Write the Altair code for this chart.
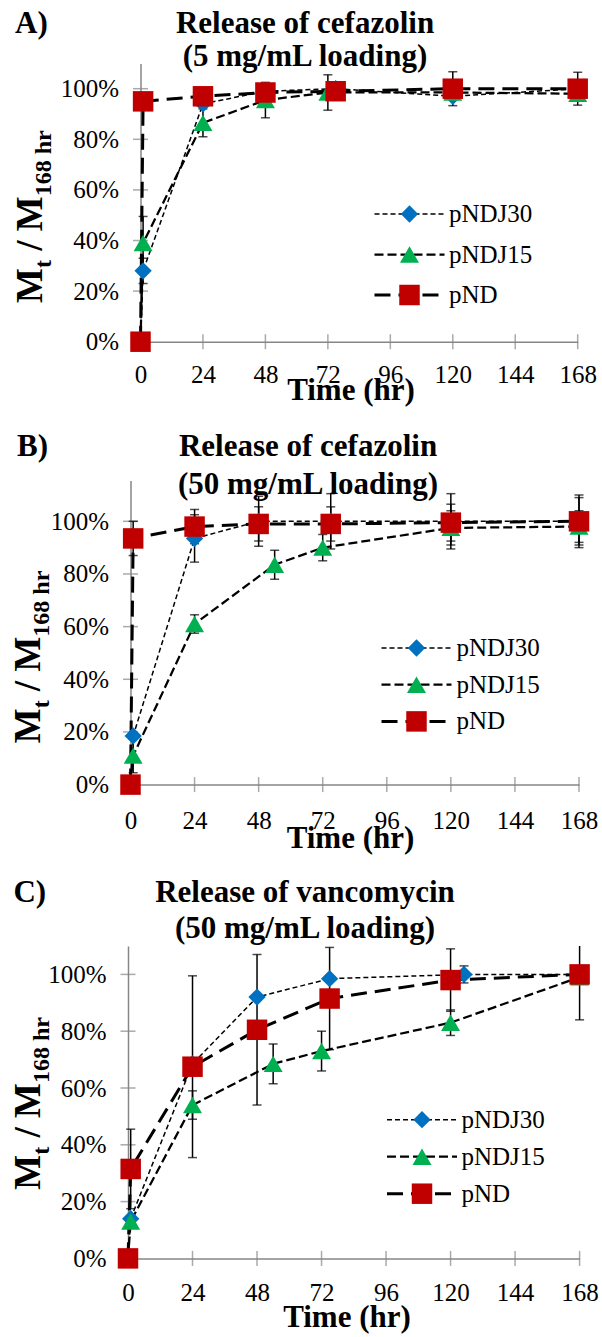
import altair as alt
import pandas as pd

FONT = "Liberation Serif, Times New Roman, Times, DejaVu Serif, serif"
AXIS_GRAY = "#868686"

# ---------------- categories / styles ----------------
SERIES = ["pNDJ30", "pNDJ15", "pND"]
MARKER_KEYS = [s + " m" for s in SERIES]
COLORS = ["#0070C0", "#00B050", "#C00000"]
SHAPES = ["diamond", "triangle-up", "square"]
MARKER_AREAS = [300, 420, 361]
DASHES = [[5, 3], [9, 4], [16, 8]]
LINE_WIDTHS = [1.5, 3.0, 3.5]

X_TICKS = [0, 24, 48, 72, 96, 120, 144, 168]
Y_TICKS = [0, 0.2, 0.4, 0.6, 0.8, 1.0]

# ---------------- Panel A: cefazolin 5 mg/mL ----------------
A_LABEL = "A)"
A_TITLE = ["Release of cefazolin", "(5 mg/mL loading)"]
A_T_PNDJ30 = [0, 1, 24, 48, 75, 120, 168]
A_Y_PNDJ30 = [0, 0.28, 0.94, 0.99, 1.00, 0.97, 1.00]
A_E_PNDJ30 = [0, 0.05, 0, 0, 0, 0, 0]
A_T_PNDJ15 = [0, 1, 24, 48, 72, 120, 168]
A_Y_PNDJ15 = [0, 0.39, 0.865, 0.955, 0.985, 0.985, 0.98]
A_E_PNDJ15 = [0, 0.105, 0.055, 0.07, 0.07, 0, 0]
A_T_PND = [0, 1, 24, 48, 75, 120, 168]
A_Y_PND = [0, 0.95, 0.97, 0.985, 0.99, 1.00, 1.00]
A_E_PND = [0, 0, 0, 0, 0, 0.067, 0.065]

# ---------------- Panel B: cefazolin 50 mg/mL ----------------
B_LABEL = "B)"
B_TITLE = ["Release of cefazolin", "(50 mg/mL loading)"]
B_T_PNDJ30 = [0, 1, 24, 48, 75, 120, 168]
B_Y_PNDJ30 = [0, 0.185, 0.935, 1.00, 1.00, 1.00, 1.00]
B_E_PNDJ30 = [0, 0, 0.09, 0.095, 0.105, 0.105, 0.10]
B_T_PNDJ15 = [0, 1, 24, 54, 72, 120, 168]
B_Y_PNDJ15 = [0, 0.11, 0.61, 0.835, 0.90, 0.975, 0.98]
B_E_PNDJ15 = [0, 0.065, 0.035, 0.055, 0.05, 0.065, 0.06]
B_T_PND = [0, 1, 24, 48, 75, 120, 168]
B_Y_PND = [0, 0.935, 0.98, 0.99, 0.99, 0.995, 1.00]
B_E_PND = [0, 0.065, 0.065, 0.065, 0.065, 0.07, 0.09]

# ---------------- Panel C: vancomycin 50 mg/mL ----------------
C_LABEL = "C)"
C_TITLE = ["Release of vancomycin", "(50 mg/mL loading)"]
C_T_PNDJ30 = [0, 1, 24, 48, 75, 125, 168]
C_Y_PNDJ30 = [0, 0.14, 0.685, 0.92, 0.985, 1.00, 1.00]
C_E_PNDJ30 = [0, 0, 0, 0, 0, 0.03, 0]
C_T_PNDJ15 = [0, 1, 24, 54, 72, 120, 168]
C_Y_PNDJ15 = [0, 0.13, 0.54, 0.685, 0.73, 0.83, 0.99]
C_E_PNDJ15 = [0, 0, 0.05, 0.07, 0.07, 0.045, 0]
C_T_PND = [0, 1, 24, 48, 75, 120, 168]
C_Y_PND = [0, 0.315, 0.675, 0.805, 0.915, 0.98, 1.00]
C_E_PND = [0, 0.14, 0.32, 0.265, 0.18, 0.11, 0.16]

X_TITLE = "Time (hr)"

# ---------------- layout (pixels, relative to each panel's view) ----------------
LAYOUTS = {
    "A": dict(w=449.7, h=340.7, xl=12.5, xr=449.7, y0=340.7, ytop=62.4, ymax=1.1,
              lab=(-113, 32), t1=(177, 32), t2=(177, 65), yt=(-86, 302),
              xlabpad=41, xtx=222.5, xty=57.3,
              legx=269, legy=200.5, rowpad=14.5, laboff=27),
    "B": dict(w=451.0, h=442.6, xl=2.5, xr=451.0, y0=442.6, ytop=138.5, ymax=1.155,
              lab=(-111, 114.3), t1=(180, 114.3), t2=(180, 152.3), yt=(-88, 401.3),
              xlabpad=43.4, xtx=222, xty=62.7,
              legx=276, legy=293.5, rowpad=10.7, laboff=27.5),
    "C": dict(w=451.6, h=473.4, xl=0.0, xr=451.6, y0=473.4, ytop=161.0, ymax=1.1,
              lab=(-114.6, 117.4), t1=(177, 117.4), t2=(177, 153.4), yt=(-88, 404.7),
              xlabpad=41.6, xtx=218.5, xty=68.3,
              legx=281.5, legy=322.2, rowpad=11, laboff=27),
}

TITLE_SIZE = 31
TICK_SIZE = 25
LEGEND_SIZE = 25
YT_BIG = 37
YT_SUB = 24
YT_SHIFT = 9

TNR_BOLD = {"M": 0.944, "t": 0.333, "/": 0.278, " ": 0.25, "1": 0.5, "6": 0.5,
            "8": 0.5, "h": 0.556, "r": 0.444}

DUMMY = pd.DataFrame({"k": [0]})


def text_width(s, size):
    return sum(TNR_BOLD[c] for c in s) * size


def txt(s, x, y, size, bold=True, angle=0, align="left"):
    kw = dict(text=s, fontSize=size, font=FONT, fontWeight="bold" if bold else "normal",
              align=align, baseline="alphabetic", color="black")
    if angle:
        kw["angle"] = angle
    return alt.Chart(DUMMY).mark_text(**kw).encode(x=alt.value(x), y=alt.value(y))


def y_title(xb, ystart):
    parts = [("M", YT_BIG, 0), ("t", YT_SUB, YT_SHIFT), (" ", YT_BIG, None),
             ("/ M", YT_BIG, 0), ("168 hr", YT_SUB, YT_SHIFT)]
    out = []
    pos = ystart
    for s, size, shift in parts:
        if shift is not None:
            out.append(txt(s, xb + shift, pos, size, angle=270))
        pos -= text_width(s, size)
    return out


def build_panel(label, title, data, L, anchor=False):
    rows = []
    for s, m, (ts, ys, es) in zip(SERIES, MARKER_KEYS, data):
        for t, y, e in zip(ts, ys, es):
            rows.append({"series": s, "marker": m, "t": t, "y": y, "err": e,
                         "lo": y - e, "hi": min(y + e, L["ymax"]),
                         "cap": y + e <= L["ymax"]})
    df = pd.DataFrame(rows)
    errs = df[df["err"] > 0]
    caps_top = errs[errs["cap"]]

    xscale = alt.Scale(domain=[0, 168], range=[L["xl"], L["xr"]], nice=False, zero=False)
    yscale = alt.Scale(domain=[0, L["ymax"]], range=[L["y0"], L["ytop"]], nice=False)
    xaxis = alt.Axis(values=X_TICKS, format="d", grid=False, ticks=False, tickSize=0,
                     domainColor=AXIS_GRAY, domainWidth=1.5,
                     labelFont=FONT, labelFontSize=TICK_SIZE, labelColor="black",
                     labelPadding=L["xlabpad"], labelBaseline="alphabetic",
                     labelFlush=False, labelOverlap=False,
                     title=X_TITLE, titleFont=FONT, titleFontSize=TITLE_SIZE,
                     titleFontWeight="bold", titleColor="black", titleX=L["xtx"],
                     titleY=L["xty"], titleBaseline="alphabetic", titleAlign="center")
    yaxis = alt.Axis(values=Y_TICKS, format=".0%", grid=False, ticks=False, tickSize=0,
                     domainColor=AXIS_GRAY, domainWidth=1.5,
                     labelFont=FONT, labelFontSize=TICK_SIZE, labelColor="black",
                     labelPadding=22, labelFlush=False, labelOverlap=False,
                     title=None, offset=-L["xl"])

    leg_line = alt.Legend(orient="none", legendX=L["legx"], legendY=L["legy"], title=None,
                          symbolType="M-3.5,0L3.5,0", symbolSize=400,
                          symbolStrokeColor="black", labelFont=FONT,
                          labelFontSize=LEGEND_SIZE, labelColor="black",
                          labelOffset=L["laboff"], rowPadding=L["rowpad"], padding=0)
    leg_mark = alt.Legend(orient="none", legendX=L["legx"], legendY=L["legy"], title=None,
                          symbolSize=361, symbolStrokeWidth=0, symbolOpacity=1,
                          labelFont=FONT, labelFontSize=LEGEND_SIZE, labelExpr="''",
                          labelOffset=L["laboff"], rowPadding=L["rowpad"], padding=0)

    xt = alt.Chart(pd.DataFrame({"t": X_TICKS})).mark_tick(
        orient="vertical", size=15, thickness=1.5, color=AXIS_GRAY
    ).encode(x=alt.X("t:Q", scale=xscale, axis=xaxis), y=alt.datum(0))
    yt = alt.Chart(pd.DataFrame({"y": Y_TICKS})).mark_tick(
        orient="horizontal", size=15, thickness=1.5, color=AXIS_GRAY
    ).encode(y=alt.Y("y:Q", scale=yscale, axis=yaxis), x=alt.datum(0))

    lines = alt.Chart(df).mark_line(color="black").encode(
        x=alt.X("t:Q", scale=xscale, axis=xaxis),
        y=alt.Y("y:Q", scale=yscale, axis=yaxis),
        strokeDash=alt.StrokeDash("series:N", scale=alt.Scale(domain=SERIES, range=DASHES),
                                  legend=leg_line),
        strokeWidth=alt.StrokeWidth("series:N",
                                    scale=alt.Scale(domain=SERIES, range=LINE_WIDTHS),
                                    legend=leg_line),
    )
    rules = alt.Chart(errs).mark_rule(color="black", strokeWidth=1.5).encode(
        x="t:Q", y="lo:Q", y2="hi:Q")
    caps_lo = alt.Chart(errs).mark_tick(orient="horizontal", size=9, thickness=1.5,
                                        color="black").encode(x="t:Q", y="lo:Q")
    caps_hi = alt.Chart(caps_top).mark_tick(orient="horizontal", size=9, thickness=1.5,
                                            color="black").encode(x="t:Q", y="hi:Q")
    pts = alt.Chart(df).mark_point(filled=True, opacity=1).encode(
        x="t:Q", y="y:Q",
        shape=alt.Shape("marker:N", scale=alt.Scale(domain=MARKER_KEYS, range=SHAPES),
                        legend=leg_mark),
        color=alt.Color("marker:N", scale=alt.Scale(domain=MARKER_KEYS, range=COLORS),
                        legend=leg_mark),
        size=alt.Size("marker:N", scale=alt.Scale(domain=MARKER_KEYS, range=MARKER_AREAS),
                      legend=None),
    )

    texts = [txt(label, L["lab"][0], L["lab"][1], TITLE_SIZE),
             txt(title[0], L["t1"][0], L["t1"][1], TITLE_SIZE, align="center"),
             txt(title[1], L["t2"][0], L["t2"][1], TITLE_SIZE, align="center")]
    texts += y_title(*L["yt"])

    layers = [xt, yt, lines, rules, caps_lo, caps_hi, pts] + texts
    if anchor:
        layers.append(alt.Chart(DUMMY).mark_rule(strokeWidth=2, opacity=0).encode(
            x=alt.value(-127), y=alt.value(0), y2=alt.value(2)))
    return alt.layer(*layers).properties(width=L["w"], height=L["h"])


panel_a = build_panel(A_LABEL, A_TITLE,
                      [(A_T_PNDJ30, A_Y_PNDJ30, A_E_PNDJ30),
                       (A_T_PNDJ15, A_Y_PNDJ15, A_E_PNDJ15),
                       (A_T_PND, A_Y_PND, A_E_PND)], LAYOUTS["A"], anchor=True)
panel_b = build_panel(B_LABEL, B_TITLE,
                      [(B_T_PNDJ30, B_Y_PNDJ30, B_E_PNDJ30),
                       (B_T_PNDJ15, B_Y_PNDJ15, B_E_PNDJ15),
                       (B_T_PND, B_Y_PND, B_E_PND)], LAYOUTS["B"])
panel_c = build_panel(C_LABEL, C_TITLE,
                      [(C_T_PNDJ30, C_Y_PNDJ30, C_E_PNDJ30),
                       (C_T_PNDJ15, C_Y_PNDJ15, C_E_PNDJ15),
                       (C_T_PND, C_Y_PND, C_E_PND)], LAYOUTS["C"])

chart = alt.vconcat(panel_a, panel_b, panel_c, spacing=0, bounds="flush").resolve_scale(
    x="independent", y="independent", color="independent", shape="independent",
    size="independent", strokeDash="independent", strokeWidth="independent"
).resolve_legend(
    color="independent", shape="independent", size="independent",
    strokeDash="independent", strokeWidth="independent"
).properties(padding=0, background="white").configure_view(stroke="transparent")

chart.save("out.html", embed_options={"renderer": "svg", "actions": False})
